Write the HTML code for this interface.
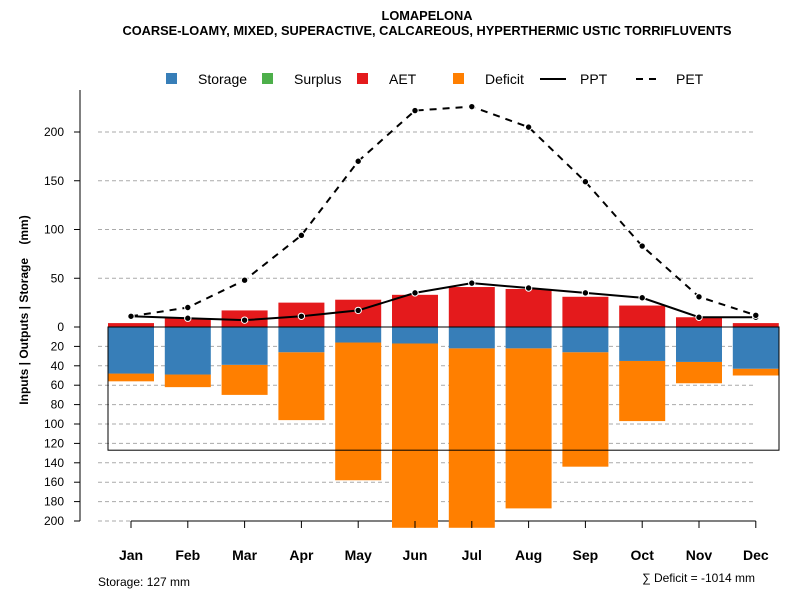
<!DOCTYPE html>
<html><head><meta charset="utf-8"><style>
body{margin:0;background:#fff;font-family:"Liberation Sans",sans-serif}
svg text{font-family:"Liberation Sans",sans-serif}
</style></head><body>
<svg id="c" width="800" height="600" xmlns="http://www.w3.org/2000/svg">
<text x="427" y="20" text-anchor="middle" font-size="12.8" font-weight="bold">LOMAPELONA</text>
<text x="427" y="35" text-anchor="middle" font-size="12.8" font-weight="bold">COARSE-LOAMY, MIXED, SUPERACTIVE, CALCAREOUS, HYPERTHERMIC USTIC TORRIFLUVENTS</text>
<g id="legend">
<rect x="166" y="73" width="11" height="11" fill="#377eb8"/>
<text x="198" y="84" font-size="14">Storage</text>
<rect x="262" y="73" width="11" height="11" fill="#4daf4a"/>
<text x="294" y="84" font-size="14">Surplus</text>
<rect x="357" y="73" width="11" height="11" fill="#e41a1c"/>
<text x="389" y="84" font-size="14">AET</text>
<rect x="453" y="73" width="11" height="11" fill="#ff7f00"/>
<text x="485" y="84" font-size="14">Deficit</text>
<line x1="540" y1="79" x2="566" y2="79" stroke="#000" stroke-width="2"/>
<text x="580" y="84" font-size="14">PPT</text>
<line x1="636" y1="79" x2="662" y2="79" stroke="#000" stroke-width="2" stroke-dasharray="7,6"/>
<text x="676" y="84" font-size="14">PET</text>
</g>
<text transform="translate(28,310) rotate(-90)" text-anchor="middle" font-size="12" font-weight="bold" xml:space="preserve">Inputs | Outputs | Storage    (mm)</text>
<text x="98" y="586" font-size="12">Storage: 127 mm</text>
<text x="755" y="582" text-anchor="end" font-size="12">∑ Deficit = -1014 mm</text>
</svg>
<script>
const months=["Jan","Feb","Mar","Apr","May","Jun","Jul","Aug","Sep","Oct","Nov","Dec"];
const aet=[4,9,17,25,28,33,41,39,31,22,10,4];
const ppt=[11,9,7,11,17,35,45,40,35,30,10,10];
const pet=[11,20,48,94,170,222,226,205,149,83,31,12];
const storage=[48,49,39,26,16,17,22,22,26,35,36,43];
const deficitBottom=[56,62,70,96,158,207,207,187,144,97,58,50];
const upTicks=[0,50,100,150,200];
const downTicks=[20,40,60,80,100,120,140,160,180,200];
const storageCap=127;
const NS="http://www.w3.org/2000/svg";
const svg=document.getElementById('c');
const y0=327,sc=0.975;
const yUp=v=>y0-v*sc, yDn=v=>y0+v*0.97;
const xc=i=>131+i*56.8, bw=46;
function mk(t,a,p){const e=document.createElementNS(NS,t);for(const k in a)e.setAttribute(k,a[k]);(p||svg).appendChild(e);return e;}
upTicks.forEach(t=>{
 if(t>0){const g=mk('line',{x1:98,x2:755,y1:yUp(t),y2:yUp(t),stroke:'#aaa','stroke-dasharray':'4,3'});
 
 }
 const l=mk('text',{x:64,y:yUp(t)+4,'text-anchor':'end','font-size':12});l.textContent=t;
 
 
 mk('line',{x1:74,x2:80,y1:yUp(t),y2:yUp(t),stroke:'#000'});
});
downTicks.forEach(t=>{
 const g=mk('line',{x1:98,x2:755,y1:yDn(t),y2:yDn(t),stroke:'#aaa','stroke-dasharray':'4,3'});
 
 
 const l=mk('text',{x:64,y:yDn(t)+4,'text-anchor':'end','font-size':12});l.textContent=t;
 
 
 mk('line',{x1:74,x2:80,y1:yDn(t),y2:yDn(t),stroke:'#000'});
});
const ax=mk('line',{x1:80,x2:80,y1:90,y2:yDn(200),stroke:'#000'});


const bx=mk('line',{x1:xc(0),x2:xc(11),y1:yDn(200),y2:yDn(200),stroke:'#000'});


months.forEach((m,i)=>{
 const x=xc(i);
 const a=mk('rect',{x:x-bw/2,y:yUp(aet[i]),width:bw,height:aet[i]*sc,fill:'#e41a1c'});
 
 
 const d=mk('rect',{x:x-bw/2,y:yDn(storage[i]),width:bw,height:(deficitBottom[i]-storage[i])*0.97,fill:'#ff7f00'});
 
 
 const s=mk('rect',{x:x-bw/2,y:y0,width:bw,height:storage[i]*0.97,fill:'#377eb8'});
 
 
 mk('line',{x1:x,x2:x,y1:yDn(200),y2:yDn(200)+7,stroke:'#000'});
 const l=mk('text',{x:x,y:560,'text-anchor':'middle','font-size':14,'font-weight':'bold'});l.textContent=m;
 
 
});
const cap=mk('rect',{x:108,y:y0,width:671,height:storageCap*0.97,fill:'none',stroke:'#000'});


const zl=mk('line',{x1:108,x2:779,y1:y0,y2:y0,stroke:'#000'});


function series(vals,dash,name){
 const p=mk('polyline',{points:vals.map((v,i)=>xc(i)+','+yUp(v)).join(' '),fill:'none',stroke:'#000','stroke-width':2,'stroke-dasharray':dash});
 
 
 vals.forEach((v,i)=>{const c=mk('circle',{cx:xc(i),cy:yUp(v),r:3.2,fill:'#000',stroke:'#fff','stroke-width':1});
 
 });
}
series(ppt,'none','ppt');
series(pet,'7,6','pet');
</script>
</body></html>
